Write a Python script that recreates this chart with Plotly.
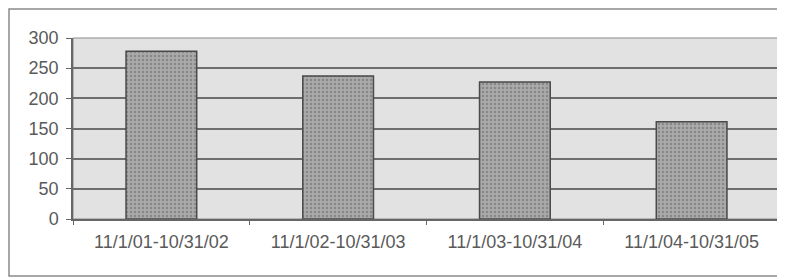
import plotly.graph_objects as go

categories = ["11/1/01-10/31/02", "11/1/02-10/31/03", "11/1/03-10/31/04", "11/1/04-10/31/05"]
values = [278, 237, 227, 161]
y_ticks = [0, 50, 100, 150, 200, 250, 300]

# page body has an 8px margin, so figure coords = screen coords - 8
W, H = 777, 269
ml, mr, mt, mb = 65, 5, 30, 58
pw, ph = W - ml - mr, H - mt - mb

fig = go.Figure(go.Bar(
    x=categories, y=values,
    marker=dict(color="#a0a0a0", line=dict(color="#4a4a4a", width=1.5),
                pattern=dict(shape=".", fgcolor="#666666", bgcolor="#aaaaaa", size=4, solidity=0.3)),
    width=0.4,
))

fig.update_layout(
    width=W, height=H,
    margin=dict(l=ml, r=mr, t=mt, b=mb, autoexpand=False),
    paper_bgcolor="white",
    plot_bgcolor="#e2e2e2",
    font=dict(family="Liberation Sans, Arial", size=18, color="#5a5a5a"),
    showlegend=False,
    xaxis=dict(showgrid=False, showline=True, linecolor="#666666", linewidth=1.5,
               ticks="outside", tickson="boundaries", ticklen=4, tickcolor="#666666",
               ticklabelstandoff=6),
    yaxis=dict(range=[0, 300], tickvals=y_ticks, showgrid=True, gridcolor="#6e6e6e", gridwidth=1.5,
               showline=True, linecolor="#666666", linewidth=1.5, ticks="outside", ticklen=5,
               tickcolor="#666666", zeroline=False, ticklabelstandoff=4),
    shapes=[dict(type="rect", xref="paper", yref="paper",
                 x0=(1 - ml) / pw, x1=(W + 5 - ml) / pw,
                 y0=-(H - 1 - mt - ph) / ph, y1=1 + (mt - 1) / ph,
                 line=dict(color="#8a8a8a", width=1.5), fillcolor="rgba(0,0,0,0)", layer="below"),
            dict(type="rect", xref="paper", yref="paper", x0=0, x1=1, y0=0, y1=1,
                 line=dict(color="#8a8a8a", width=1), fillcolor="rgba(0,0,0,0)", layer="below")],
)

fig.write_html("out.html")
